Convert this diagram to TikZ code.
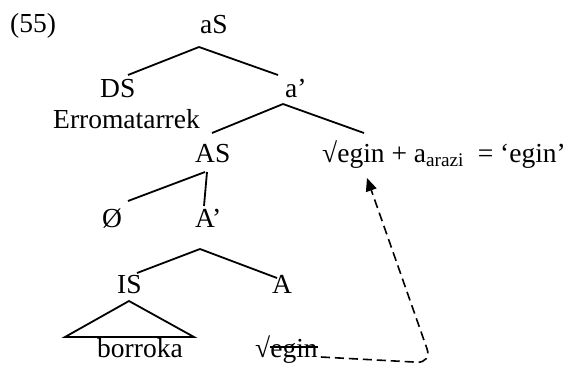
\documentclass[tikz,border=0pt]{standalone}
\usepackage{fontspec}
\setmainfont{Liberation Serif}
\usetikzlibrary{arrows.meta,calc}

\begin{document}
\begin{tikzpicture}[x=1pt,y=-1pt,
    cat/.style={inner sep=0pt, anchor=base west, font=\fontsize{27.5}{33}\selectfont},
    branch/.style={line width=1.8pt},
    movearrow/.style={line width=1.6pt, dash pattern=on 9pt off 5pt, rounded corners=15pt, -{Triangle[length=13pt,width=11pt]}}
  ]
  \useasboundingbox (0,0) rectangle (569,365);
  \node[cat] (ex) at (10,32) {(55)};
  \node[cat] (aS) at (200,33) {aS};
  \node[cat] (DS) at (100,97) {DS};
  \node[cat] (abar) at (285,97) {a’};
  \node[cat] (subj) at (53,128) {Erromatarrek};
  \node[cat] (AS) at (195,162) {AS};
  \node[cat] (verb) at (322,162) {√egin + a\textsubscript{arazi}\ \ = ‘egin’};
  \node[cat] (zero) at (102,227) {Ø};
  \node[cat] (Abar) at (195,227) {A’};
  \node[cat] (IS) at (117,293) {IS};
  \node[cat] (A) at (272,293) {A};
  \node[cat] (obj) at (97,357) {borroka};
  \node[cat] (trace) at (255,357) {√egin};
  \coordinate (bend) at (432,363);

  \draw[branch] ($(aS.base west)+(-1,14)$) -- ($(DS.base west)+(28,-22)$);
  \draw[branch] ($(aS.base west)+(-1,14)$) -- ($(abar.base west)+(-7,-22)$);
  \draw[branch] ($(abar.base west)+(-2,7)$) -- ($(AS.base west)+(17,-29)$);
  \draw[branch] ($(abar.base west)+(-2,7)$) -- ($(verb.base west)+(42,-29)$);
  \draw[branch] ($(AS.base west)+(10,10)$) -- ($(zero.base west)+(26,-26)$);
  \draw[branch] ($(AS.base west)+(12,10)$) -- ($(Abar.base west)+(9,-21)$);
  \draw[branch] ($(Abar.base west)+(5,22)$) -- ($(IS.base west)+(20,-20)$);
  \draw[branch] ($(Abar.base west)+(5,22)$) -- ($(A.base west)+(5,-15)$);
  \draw[branch] ($(IS.base west)+(12,8)$) -- ($(obj.base west)+(-32,-20)$) -- ($(obj.base west)+(97,-20)$) -- cycle;
  % copy struck out
  \draw[line width=1.3pt] ($(trace.base west)+(15,-10)$) -- ($(trace.base east)+(0,-10)$);
  \draw[movearrow] ($(trace.base east)+(3,0)$) -- (bend) -- ($(verb.base west)+(45,16)$);
\end{tikzpicture}
\end{document}
